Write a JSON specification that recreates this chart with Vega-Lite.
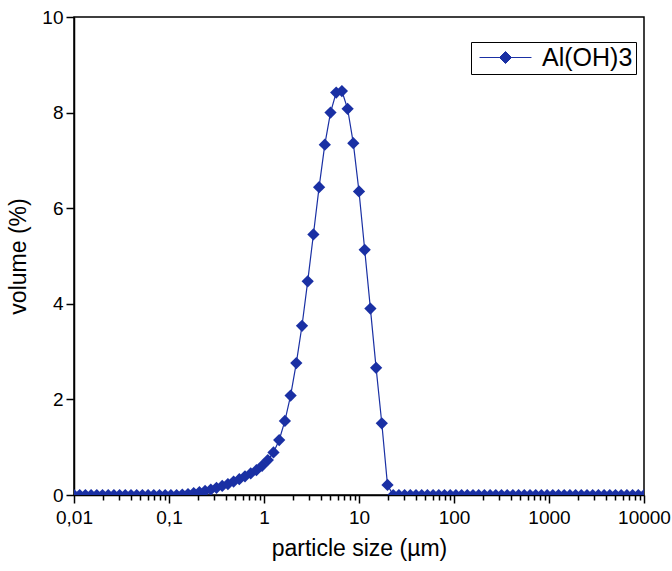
{
  "$schema": "https://vega.github.io/schema/vega-lite/v6.json",
  "autosize": "none",
  "padding": {"left": 74, "top": 17, "right": 28, "bottom": 76},
  "width": 570,
  "height": 478,
  "background": "white",
  "config": {
    "view": {"stroke": "black", "strokeWidth": 1.5},
    "font": "Liberation Sans, Arial, sans-serif",
    "axis": {"grid": false, "labelColor": "black", "titleColor": "black", "titleFontWeight": "normal", "labelFont": "Liberation Sans, sans-serif", "titleFont": "Liberation Sans, sans-serif"}
  },
  "data": {"values": [
    {"size": 0.01, "volume": 0}, {"size": 0.011482, "volume": 0}, {"size": 0.013183, "volume": 0}, {"size": 0.015136, "volume": 0},
    {"size": 0.017378, "volume": 0}, {"size": 0.019953, "volume": 0}, {"size": 0.022909, "volume": 0}, {"size": 0.026303, "volume": 0},
    {"size": 0.0302, "volume": 0}, {"size": 0.034674, "volume": 0}, {"size": 0.039811, "volume": 0}, {"size": 0.045709, "volume": 0},
    {"size": 0.052481, "volume": 0}, {"size": 0.060256, "volume": 0}, {"size": 0.069183, "volume": 0}, {"size": 0.079433, "volume": 0},
    {"size": 0.091201, "volume": 0}, {"size": 0.10471, "volume": 0}, {"size": 0.12023, "volume": 0}, {"size": 0.13804, "volume": 0.01},
    {"size": 0.15849, "volume": 0.02}, {"size": 0.18197, "volume": 0.04}, {"size": 0.20893, "volume": 0.06}, {"size": 0.23988, "volume": 0.085},
    {"size": 0.27542, "volume": 0.115}, {"size": 0.31623, "volume": 0.15}, {"size": 0.36308, "volume": 0.19}, {"size": 0.41687, "volume": 0.23},
    {"size": 0.47863, "volume": 0.28}, {"size": 0.54954, "volume": 0.33}, {"size": 0.63096, "volume": 0.39}, {"size": 0.72444, "volume": 0.45},
    {"size": 0.83176, "volume": 0.52}, {"size": 0.95499, "volume": 0.61}, {"size": 1.0965, "volume": 0.73}, {"size": 1.2589, "volume": 0.89},
    {"size": 1.4454, "volume": 1.15}, {"size": 1.6596, "volume": 1.55}, {"size": 1.9055, "volume": 2.08}, {"size": 2.1878, "volume": 2.76},
    {"size": 2.5119, "volume": 3.54}, {"size": 2.884, "volume": 4.47}, {"size": 3.3113, "volume": 5.45}, {"size": 3.8019, "volume": 6.44},
    {"size": 4.3652, "volume": 7.33}, {"size": 5.0119, "volume": 8.0}, {"size": 5.7544, "volume": 8.42}, {"size": 6.6069, "volume": 8.45},
    {"size": 7.5858, "volume": 8.08}, {"size": 8.7096, "volume": 7.36}, {"size": 10, "volume": 6.35}, {"size": 11.482, "volume": 5.13},
    {"size": 13.183, "volume": 3.9}, {"size": 15.136, "volume": 2.66}, {"size": 17.378, "volume": 1.5}, {"size": 19.953, "volume": 0.21},
    {"size": 22.909, "volume": 0}, {"size": 26.303, "volume": 0}, {"size": 30.2, "volume": 0}, {"size": 34.674, "volume": 0},
    {"size": 39.811, "volume": 0}, {"size": 45.709, "volume": 0}, {"size": 52.481, "volume": 0}, {"size": 60.256, "volume": 0},
    {"size": 69.183, "volume": 0}, {"size": 79.433, "volume": 0}, {"size": 91.201, "volume": 0}, {"size": 104.71, "volume": 0},
    {"size": 120.23, "volume": 0}, {"size": 138.04, "volume": 0}, {"size": 158.49, "volume": 0}, {"size": 181.97, "volume": 0},
    {"size": 208.93, "volume": 0}, {"size": 239.88, "volume": 0}, {"size": 275.42, "volume": 0}, {"size": 316.23, "volume": 0},
    {"size": 363.08, "volume": 0}, {"size": 416.87, "volume": 0}, {"size": 478.63, "volume": 0}, {"size": 549.54, "volume": 0},
    {"size": 630.96, "volume": 0}, {"size": 724.44, "volume": 0}, {"size": 831.76, "volume": 0}, {"size": 954.99, "volume": 0},
    {"size": 1096.5, "volume": 0}, {"size": 1258.9, "volume": 0}, {"size": 1445.4, "volume": 0}, {"size": 1659.6, "volume": 0},
    {"size": 1905.5, "volume": 0}, {"size": 2187.8, "volume": 0}, {"size": 2511.9, "volume": 0}, {"size": 2884.0, "volume": 0},
    {"size": 3311.3, "volume": 0}, {"size": 3801.9, "volume": 0}, {"size": 4365.2, "volume": 0}, {"size": 5011.9, "volume": 0},
    {"size": 5754.4, "volume": 0}, {"size": 6606.9, "volume": 0}, {"size": 7585.8, "volume": 0}, {"size": 8709.6, "volume": 0},
    {"size": 10000, "volume": 0}
  ]},
  "mark": {"type": "line", "strokeWidth": 1.2, "clip": true, "point": {"shape": "diamond", "filled": true, "size": 150, "opacity": 1}},
  "encoding": {
    "x": {"field": "size", "type": "quantitative",
      "scale": {"type": "log", "domain": [0.01, 10000], "nice": false},
      "axis": {
        "orient": "bottom",
        "values": [0.01,0.02,0.03,0.04,0.05,0.06,0.07,0.08,0.09,0.1,0.2,0.3,0.4,0.5,0.6,0.7,0.8,0.9,1,2,3,4,5,6,7,8,9,10,20,30,40,50,60,70,80,90,100,200,300,400,500,600,700,800,900,1000,2000,3000,4000,5000,6000,7000,8000,9000,10000],
        "labelExpr": "indexof([0.01,0.1,1,10,100,1000,10000], datum.value) >= 0 ? replace(toString(datum.value), '.', ',') : ''",
        "labelOverlap": false,
        "labelFlush": false,
        "domain": true, "domainColor": "black", "domainWidth": 1.5,
        "ticks": true, "tickColor": "black", "tickWidth": 1.5,
        "tickSize": {"condition": {"test": "indexof([0.01,0.1,1,10,100,1000,10000], datum.value) >= 0", "value": 8}, "value": 5},
        "labelFontSize": 19,
        "labelPadding": 5,
        "title": "particle size (µm)",
        "titleFontSize": 23,
        "titlePadding": 10
      }
    },
    "y": {"field": "volume", "type": "quantitative",
      "scale": {"domain": [0, 10], "nice": false, "zero": false},
      "axis": {
        "orient": "left",
        "values": [0,2,4,6,8,10],
        "domain": true, "domainColor": "black", "domainWidth": 1.5,
        "ticks": true, "tickColor": "black", "tickWidth": 1.5, "tickSize": 8,
        "labelFontSize": 19,
        "labelPadding": 3,
        "title": "volume (%)",
        "titleFontSize": 23,
        "titlePadding": 11
      }
    },
    "color": {"datum": "Al(OH)3", "type": "nominal",
      "scale": {"range": ["#1a30a4"]},
      "legend": {
        "orient": "none", "legendX": 397, "legendY": 25,
        "title": null,
        "strokeColor": "black", "fillColor": "white", "padding": 3,
        "symbolType": "M-4.33,0L4.33,0M0,-1L1,0L0,1L-1,0Z",
        "symbolSize": 144,
        "symbolOffset": 19,
        "symbolOpacity": 1,
        "labelFontSize": 25,
        "labelFont": "Liberation Sans, sans-serif",
        "labelColor": "black",
        "labelOffset": 24,
        "encode": {"symbols": {"update": {"fill": {"value": "#0b2ca6"}, "stroke": {"value": "#33409c"}, "strokeWidth": {"value": 1}, "opacity": {"value": 1}}}}
      }
    }
  }
}
